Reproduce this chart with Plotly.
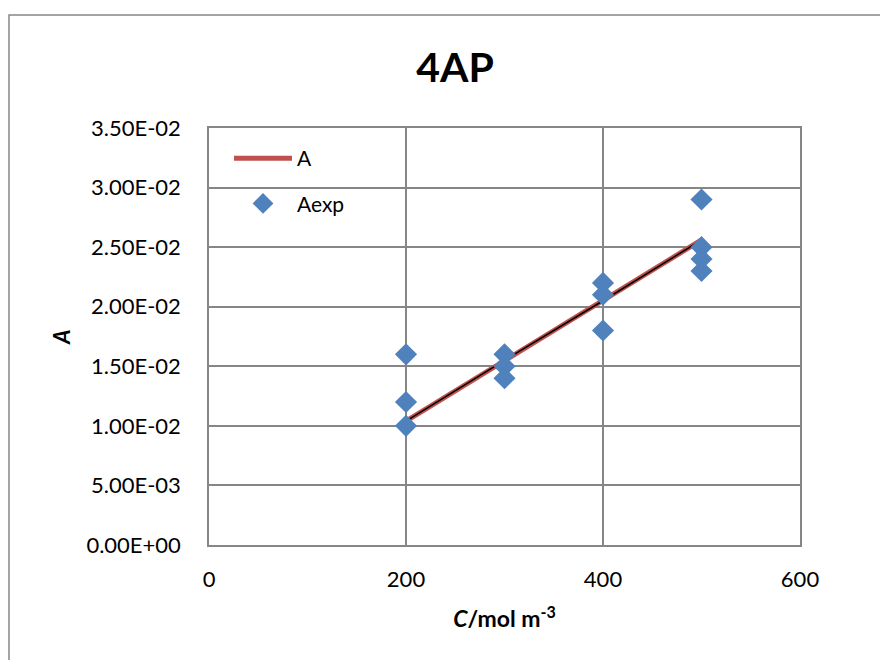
import plotly.graph_objects as go

# Data
exp_c = [200, 200, 200, 300, 300, 300, 400, 400, 400, 500, 500, 500, 500]
exp_a = [0.010, 0.012, 0.016, 0.016, 0.015, 0.014, 0.022, 0.021, 0.018, 0.029, 0.025, 0.024, 0.023]
model_c = [200, 300, 400, 500]
model_a = [0.0104, 0.0155, 0.0205, 0.0256]
y_tickvals = [0, 0.005, 0.010, 0.015, 0.020, 0.025, 0.030, 0.035]
y_ticktext = ["0.00E+00", "5.00E-03", "1.00E-02", "1.50E-02", "2.00E-02", "2.50E-02", "3.00E-02", "3.50E-02"]
x_tickvals = [0, 200, 400, 600]

FONT = "Lato, 'Open Sans', sans-serif"
GRID = "#868686"

fig = go.Figure()
fig.add_trace(go.Scatter(x=model_c, y=model_a, mode="lines", name="A", legendgroup="a",
                         line=dict(color="#C0504D", width=5)))
fig.add_trace(go.Scatter(x=model_c, y=model_a, mode="lines", name="fit", legendgroup="a",
                         showlegend=False, hoverinfo="skip",
                         line=dict(color="black", width=1.5)))
fig.add_trace(go.Scatter(x=exp_c, y=exp_a, mode="markers", name="Aexp", legendgroup="b",
                         marker=dict(symbol="diamond", color="#4F81BD", size=17,
                                     line=dict(width=0))))

# page body has an 8px offset; layout measured in screen pixels minus 8
OFF = 8
W, H = 888, 660
ml, mt = 209 - OFF, 128 - OFF
mr = W - (800 - OFF)
mb = H - (545 - OFF)
pw, ph = W - ml - mr, H - mt - mb

def px2paper_x(px):
    return (px - OFF - ml) / pw

def px2paper_y(py):
    return (H - mb - (py - OFF)) / ph

fig.update_layout(
    width=W, height=H,
    margin=dict(l=ml, r=mr, t=mt, b=mb),
    paper_bgcolor="white", plot_bgcolor="white",
    font=dict(family=FONT, size=22, color="black"),
    title=dict(text="<b>4AP</b>", x=px2paper_x(455), xref="paper", xanchor="center",
               y=1 - (68 - OFF) / H, yanchor="middle", font=dict(size=41, family=FONT)),
    showlegend=True,
    legend=dict(x=px2paper_x(229), y=px2paper_y(138), xanchor="left", yanchor="top",
                bgcolor="rgba(0,0,0,0)", font=dict(size=21), itemwidth=58,
                traceorder="grouped", tracegroupgap=15),
    xaxis=dict(range=[0, 600], tickvals=x_tickvals, showgrid=True, gridcolor=GRID,
               gridwidth=1.5, showline=True, linecolor=GRID, linewidth=1.5, mirror=True,
               zeroline=False, ticks="", ticklabelstandoff=14,
               title=dict(text="<b><i>C</i>/mol m<sup>-3</sup></b>", font=dict(size=23),
                          standoff=20)),
    yaxis=dict(range=[0, 0.035], tickvals=y_tickvals, ticktext=y_ticktext, showgrid=True,
               gridcolor=GRID, gridwidth=1.5, showline=True, linecolor=GRID, linewidth=1.5,
               mirror=True, zeroline=False, ticks="", ticklabelstandoff=22,
               title=dict(text="<b><i>A</i></b>", font=dict(size=22), standoff=10)),
)

fig.add_shape(type="rect", xref="paper", yref="paper",
              x0=px2paper_x(9), x1=px2paper_x(900), y0=px2paper_y(680), y1=px2paper_y(15),
              line=dict(color="#868686", width=1.5), fillcolor="rgba(0,0,0,0)", layer="below")

fig.write_html("out.html")
